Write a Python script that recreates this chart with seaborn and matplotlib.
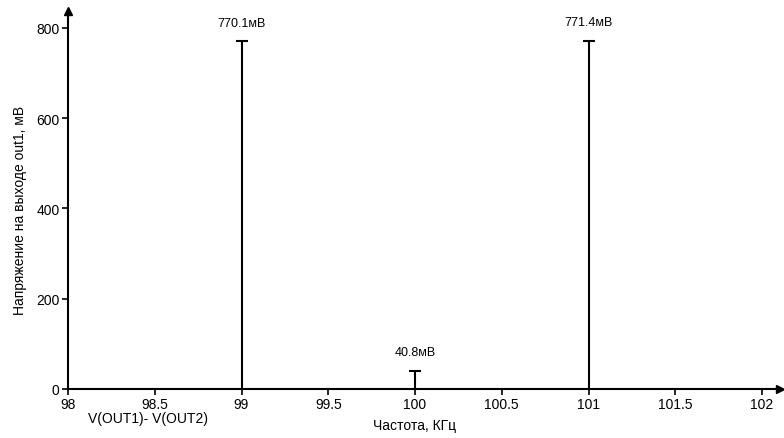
import matplotlib
matplotlib.use("Agg")
import matplotlib.pyplot as plt
import seaborn as sns

sns.set_style("white")
plt.rcParams["font.family"] = ["Liberation Sans", "DejaVu Sans"]
plt.rcParams["text.color"] = "black"
plt.rcParams["axes.labelcolor"] = "black"
plt.rcParams["xtick.color"] = "black"
plt.rcParams["ytick.color"] = "black"

freqs = [99.0, 100.0, 101.0]
amps = [770.1, 40.8, 771.4]
labels = ["770.1мВ", "40.8мВ", "771.4мВ"]
xticks = [98, 98.5, 99, 99.5, 100, 100.5, 101, 101.5, 102]
xticklabels = ["98", "98.5", "99", "99.5", "100", "100.5", "101", "101.5", "102"]
yticks = [0, 200, 400, 600, 800]

fig = plt.figure(figsize=(7.84, 4.39), dpi=100)
ax = fig.add_axes([68 / 784, 49 / 439, (780 - 68) / 784, (390 - 12) / 439])

# stems with T caps
ax.vlines(freqs, 0, amps, color="black", lw=1.5)
sns.scatterplot(x=freqs, y=amps, marker="_", s=80, color="black",
                linewidth=1.5, ax=ax, legend=False)
for f, a, t in zip(freqs, amps, labels):
    ax.annotate(t, (f, a), xytext=(0, 9), textcoords="offset points",
                ha="center", va="bottom", fontsize=9, color="black")

ax.set_xlim(98, 102 + 18 / 173.5)
ax.set_ylim(0, 837)
ax.set_xticks(xticks)
ax.set_xticklabels(xticklabels, fontsize=10)
ax.set_yticks(yticks)
ax.set_yticklabels([str(v) for v in yticks], fontsize=10)
ax.tick_params(axis="both", length=4, width=1.2, color="black", direction="out",
               pad=2, bottom=True, left=True)

for s in ["top", "right"]:
    ax.spines[s].set_visible(False)
for s in ["left", "bottom"]:
    ax.spines[s].set_color("black")
    ax.spines[s].set_linewidth(1.5)

# axis arrows
ax.plot(1, 0, ">", color="black", ms=6, transform=ax.transAxes, clip_on=False)
ax.plot(0, 1, "^", color="black", ms=6, transform=ax.transAxes, clip_on=False)

ax.set_xlabel("Частота, КГц", fontsize=10)
ax.xaxis.set_label_coords((415 - 68) / (780 - 68), -(426 - 390) / 378)
ax.xaxis.label.set_va("center")
ax.set_ylabel("Напряжение на выходе out1, мВ", fontsize=10)
ax.yaxis.set_label_coords(-(68 - 20) / (780 - 68), (390 - 210) / 378)
ax.yaxis.label.set_va("center")
fig.text(148 / 784, 1 - 419 / 439, "V(OUT1)- V(OUT2)", ha="center",
         va="center", fontsize=10)

fig.savefig("out.png", dpi=100, facecolor="white")
